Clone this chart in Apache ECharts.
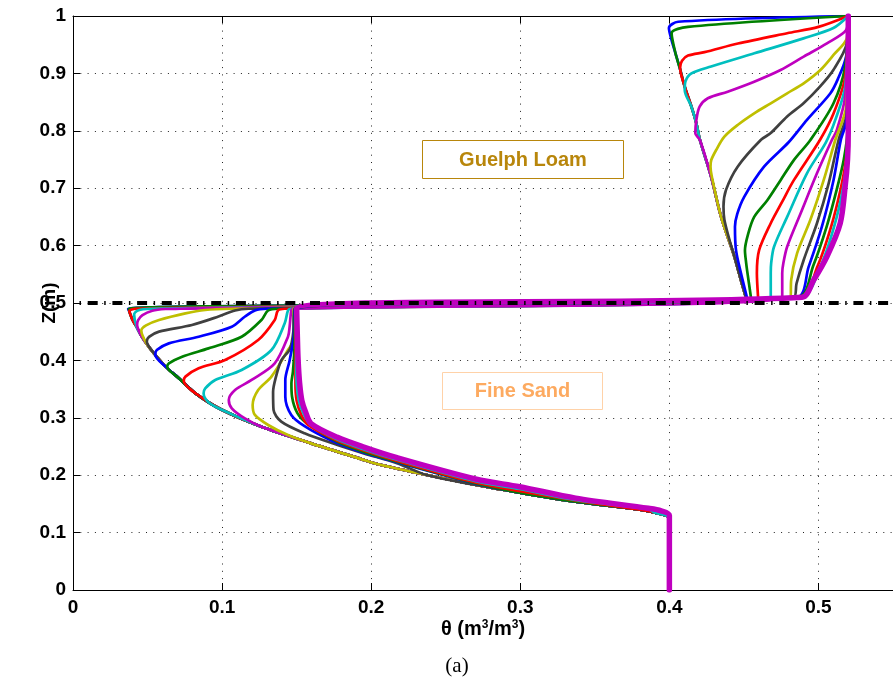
<!DOCTYPE html>
<html><head><meta charset="utf-8">
<script src="https://cdn.jsdelivr.net/npm/echarts@6/dist/echarts.min.js"></script>
<style>html,body{margin:0;padding:0;background:#fff}#c{width:893px;height:691px}</style>
</head><body><div id="c"></div>
<script>
// ---- colours (MATLAB classic line order) ----
const COLORS = ['#0000FF','#008000','#FF0000','#00BFBF','#BF00BF','#BFBF00','#404040'];

// ---- axes ----
const X_MIN = 0, X_MAX = 0.55, X_STEP = 0.1;
const Y_MIN = 0, Y_MAX = 1, Y_STEP = 0.1;
const INTERFACE_Z = 0.5;

// ---- initial profile (envelope) Guelph Loam, top -> bottom [theta, z] ----
const U_ENV = [[0.3997,0.98],[0.4015,0.958],[0.4041,0.935],[0.4070,0.909],[0.4103,0.877],[0.4148,0.842],[0.4181,0.813],[0.4205,0.784],[0.428,0.72],[0.4347,0.65],[0.4436,0.581],[0.4480,0.54],[0.4513,0.51]];
// ---- initial profile (envelope) Fine Sand, top -> bottom ----
const L_ENV = [[0.0382,0.482],[0.040,0.470],[0.0426,0.4588],[0.0455,0.4443],[0.0492,0.4297],[0.0543,0.4123],[0.0621,0.3891],[0.071,0.369],[0.0821,0.3427],[0.0998,0.314],[0.1264,0.2845],[0.1597,0.2555],[0.1929,0.2285],[0.204,0.2195],[0.2373,0.2003],[0.2706,0.1829],[0.2995,0.1696],[0.3371,0.1539],[0.3815,0.1394],[0.3904,0.1347],[0.3988,0.1289],[0.40,0.125],[0.40,0]];

// ---- upper layer profiles (top -> where they meet the envelope) ----
const UPPER_0 = [[0.52,1.0],[0.4059,0.99],[0.3997,0.979]];
const UPPER_1 = [[0.52,1.0],[0.4125,0.981],[0.4015,0.97]];
const UPPER_2 = [[0.52,1.0],[0.50,0.981],[0.479,0.97],[0.446,0.952],[0.4236,0.937],[0.4125,0.931],[0.4085,0.922],[0.4072,0.91]];
const UPPER_3 = [[0.52,1.0],[0.51,0.979],[0.49,0.961],[0.457,0.935],[0.428,0.912],[0.4148,0.90],[0.4108,0.886],[0.4103,0.871]];
const UPPER_4 = [[0.52,1.0],[0.5186,0.9756],[0.5057,0.9524],[0.4901,0.9292],[0.4746,0.9059],[0.4569,0.8856],[0.4391,0.8682],[0.4258,0.8566],[0.4203,0.842],[0.4181,0.8188],[0.4174,0.7956]];
const UPPER_5 = [[0.52,1.0],[0.519,0.9611],[0.5101,0.9321],[0.5013,0.9059],[0.4901,0.8827],[0.479,0.8653],[0.468,0.8479],[0.4569,0.8304],[0.4458,0.8101],[0.4369,0.7898],[0.4314,0.7666],[0.4281,0.7491],[0.4276,0.7375],[0.4285,0.7201]];
const UPPER_6 = [[0.52,1.0],[0.519,0.952],[0.510,0.906],[0.501,0.877],[0.490,0.848],[0.479,0.825],[0.468,0.796],[0.4613,0.784],[0.4458,0.7375],[0.438,0.697],[0.4363,0.668],[0.4369,0.645],[0.4403,0.61]];
const UPPER_7 = [[0.52,1.0],[0.5186,0.93],[0.513,0.89],[0.5079,0.865],[0.4923,0.819],[0.480,0.78],[0.4635,0.7375],[0.4502,0.685],[0.4455,0.655],[0.444,0.633],[0.4447,0.592],[0.448,0.552],[0.452,0.51]];
const UPPER_8 = [[0.52,1.0],[0.5179,0.912],[0.5101,0.848],[0.4946,0.784],[0.4835,0.749],[0.4746,0.714],[0.4657,0.679],[0.4569,0.65],[0.4529,0.621],[0.4507,0.592],[0.4515,0.57],[0.4524,0.552],[0.4547,0.51]];
const UPPER_9 = [[0.52,1.0],[0.5179,0.894],[0.5101,0.83],[0.501,0.784],[0.4835,0.714],[0.4757,0.6765],[0.468,0.639],[0.4602,0.592],[0.4587,0.552],[0.4595,0.51]];
const UPPER_10 = [[0.52,1.0],[0.5179,0.877],[0.5113,0.819],[0.505,0.78],[0.4923,0.726],[0.479,0.65],[0.4702,0.598],[0.4683,0.57],[0.468,0.552],[0.468,0.51]];
const UPPER_11 = [[0.52,1.0],[0.5179,0.86],[0.5123,0.801],[0.509,0.784],[0.499,0.726],[0.488,0.656],[0.479,0.598],[0.4765,0.57],[0.4757,0.552],[0.4757,0.51]];
const UPPER_12 = [[0.52,1.0],[0.5186,0.842],[0.5113,0.784],[0.5035,0.714],[0.4946,0.645],[0.4857,0.587],[0.4817,0.54],[0.4813,0.51]];
const UPPER_13 = [[0.52,1.0],[0.519,0.83],[0.5135,0.784],[0.5068,0.708],[0.499,0.639],[0.4901,0.575],[0.4853,0.534],[0.4835,0.51]];
const UPPER_14 = [[0.52,1.0],[0.519,0.82],[0.515,0.784],[0.5101,0.714],[0.5023,0.633],[0.4934,0.563],[0.4855,0.51]];
const UPPER_15 = [[0.52,1.0],[0.5195,0.80],[0.517,0.75],[0.5125,0.70],[0.5055,0.633],[0.4965,0.565],[0.4865,0.51]];
const UPPER_16 = [[0.52,1.0],[0.52,0.80],[0.5185,0.75],[0.515,0.70],[0.5085,0.633],[0.4995,0.565],[0.4875,0.51]];
const UPPER_17 = [[0.52,1.0],[0.52,0.80],[0.519,0.75],[0.5165,0.70],[0.5105,0.633],[0.5015,0.565],[0.4882,0.51]];
const UPPER_18 = [[0.52,1.0],[0.52,0.80],[0.5195,0.75],[0.5179,0.703],[0.5146,0.639],[0.5057,0.581],[0.4968,0.54],[0.489,0.51]];

// ---- lower layer profiles (top -> where they meet the envelope) ----
const LOWER_0 = [[0.037,0.49]];
const LOWER_1 = [[0.0375,0.49]];
const LOWER_2 = [[0.042,0.49],[0.0378,0.486]];
const LOWER_3 = [[0.052,0.49],[0.0435,0.487],[0.041,0.48]];
const LOWER_4 = [[0.072,0.49],[0.0621,0.4895],[0.0532,0.4866],[0.0466,0.479],[0.0437,0.47],[0.043,0.462]];
const LOWER_5 = [[0.107,0.49],[0.0887,0.4878],[0.0754,0.482],[0.0577,0.4704],[0.049,0.461],[0.0458,0.452]];
const LOWER_6 = [[0.118,0.49],[0.1087,0.487],[0.0976,0.4765],[0.0798,0.4617],[0.0577,0.4501],[0.051,0.441],[0.0495,0.433]];
const LOWER_7 = [[0.130,0.49],[0.122,0.487],[0.1154,0.4765],[0.1065,0.4588],[0.0843,0.4413],[0.0643,0.4297],[0.0562,0.418],[0.0552,0.41]];
const LOWER_8 = [[0.138,0.49],[0.1309,0.487],[0.1264,0.4704],[0.1131,0.4413],[0.0909,0.421],[0.0732,0.4065],[0.0643,0.3949],[0.0632,0.389]];
const LOWER_9 = [[0.142,0.49],[0.1375,0.487],[0.1353,0.4704],[0.1242,0.4355],[0.102,0.4007],[0.0843,0.3862],[0.0754,0.3717],[0.0743,0.364]];
const LOWER_10 = [[0.146,0.49],[0.1442,0.487],[0.142,0.4646],[0.1331,0.4181],[0.1131,0.3833],[0.0954,0.3659],[0.0887,0.3513],[0.0876,0.3426],[0.0905,0.328],[0.0998,0.314]];
const LOWER_11 = [[0.1475,0.49],[0.1464,0.487],[0.1453,0.4588],[0.1442,0.4413],[0.1353,0.3949],[0.1198,0.3659],[0.1087,0.3484],[0.1045,0.331],[0.1065,0.3165],[0.1153,0.299],[0.1264,0.2845]];
const LOWER_12 = [[0.148,0.49],[0.1478,0.4355],[0.1442,0.4181],[0.1331,0.3717],[0.1242,0.3484],[0.1205,0.3223],[0.122,0.305],[0.1309,0.2875],[0.1442,0.27],[0.1597,0.2555]];
const LOWER_13 = [[0.1485,0.49],[0.1478,0.45],[0.1455,0.42],[0.1397,0.40],[0.136,0.37],[0.1342,0.345],[0.1345,0.3136],[0.1397,0.2932],[0.1553,0.273],[0.1774,0.2526],[0.1951,0.238],[0.2173,0.221]];
const LOWER_14 = [[0.1488,0.49],[0.148,0.44],[0.1453,0.40],[0.1424,0.366],[0.1424,0.337],[0.1464,0.305],[0.1553,0.2855],[0.173,0.261],[0.1929,0.241],[0.2173,0.2225],[0.2706,0.185]];
const LOWER_15 = [[0.149,0.49],[0.1485,0.42],[0.1475,0.38],[0.1465,0.36],[0.1469,0.337],[0.1505,0.308],[0.157,0.29],[0.1774,0.258],[0.1951,0.2405],[0.2173,0.2235],[0.2706,0.1855]];
const LOWER_16 = [[0.1495,0.49],[0.1493,0.40],[0.1492,0.36],[0.150,0.33],[0.153,0.306],[0.158,0.287],[0.1774,0.26],[0.1951,0.243],[0.2173,0.225],[0.2706,0.187],[0.3371,0.156]];
const LOWER_17 = [[0.1497,0.49],[0.1497,0.40],[0.150,0.36],[0.1515,0.33],[0.1545,0.308],[0.159,0.289],[0.1774,0.262],[0.1951,0.245],[0.2173,0.227],[0.2706,0.189],[0.2995,0.176],[0.3371,0.157],[0.3859,0.141]];
const LOWER_18 = [[0.150,0.49],[0.1505,0.44],[0.151,0.40],[0.152,0.36],[0.1535,0.33],[0.156,0.31],[0.1597,0.29],[0.1774,0.266],[0.1951,0.249],[0.2173,0.2305],[0.2706,0.193],[0.2995,0.18],[0.3371,0.16],[0.3859,0.1423],[0.3945,0.138],[0.40,0.13],[0.40,0]];

const UPPER = [UPPER_0,UPPER_1,UPPER_2,UPPER_3,UPPER_4,UPPER_5,UPPER_6,UPPER_7,UPPER_8,UPPER_9,UPPER_10,UPPER_11,UPPER_12,UPPER_13,UPPER_14,UPPER_15,UPPER_16,UPPER_17,UPPER_18];
const LOWER = [LOWER_0,LOWER_1,LOWER_2,LOWER_3,LOWER_4,LOWER_5,LOWER_6,LOWER_7,LOWER_8,LOWER_9,LOWER_10,LOWER_11,LOWER_12,LOWER_13,LOWER_14,LOWER_15,LOWER_16,LOWER_17,LOWER_18];

const LABEL_UPPER = 'Guelph Loam';
const LABEL_LOWER = 'Fine Sand';

// append the part of the initial profile lying below where a profile joins it
function withTail(head, env) {
  const last = head[head.length - 1];
  return head.concat(env.filter(p => p[1] < last[1] && p[0] > last[0]));
}

const series = [];
for (let i = 0; i < UPPER.length; i++) {
  const lo = withTail(LOWER[i], L_ENV).slice().reverse();
  const up = withTail(UPPER[i], U_ENV).slice().reverse();
  const last = i === UPPER.length - 1;
  series.push({
    type: 'line', data: lo.concat(up), showSymbol: false, symbol: 'none',
    smooth: 0.3,
    silent: true, animation: false, clip: true,
    lineStyle: { color: COLORS[i % COLORS.length], width: last ? 5.5 : 2.7, join: 'round', cap: 'round' },
    z: 2
  });
}
series.push({
  type: 'line', data: [[X_MIN, INTERFACE_Z], [X_MAX, INTERFACE_Z]], showSymbol: false, symbol: 'none',
  silent: true, animation: false,
  lineStyle: { color: '#000', width: 4, type: [10, 6.5, 1.5, 6.7], dashOffset: 10, cap: 'butt' },
  z: 3
});

const FONT = '"Liberation Sans", Arial, Helvetica, sans-serif';
const dotted = { color: '#222', width: 1, type: [1, 6.3] };

const chart = echarts.init(document.getElementById('c'), null, { renderer: 'canvas' });
chart.setOption({
  backgroundColor: '#fff',
  animation: false,
  grid: { left: 73, top: 16, width: 827, height: 574 },
  xAxis: [{
    type: 'value', min: X_MIN, max: X_MAX, interval: X_STEP, position: 'bottom',
    axisLine: { show: true, onZero: false, lineStyle: { color: '#000', width: 1 } },
    axisTick: { show: true, inside: true, length: 7, lineStyle: { color: '#000' } },
    axisLabel: { show: true, fontFamily: FONT, fontWeight: 'bold', fontSize: 19, color: '#000', margin: 8, showMaxLabel: false },
    splitLine: { show: true, lineStyle: dotted },
    name: 'θ (m{s|3}/m{s|3})', nameLocation: 'middle', nameGap: 29, nameMoveOverlap: false,
    nameTextStyle: { fontFamily: FONT, fontWeight: 'bold', fontSize: 20, color: '#000',
      rich: { s: { fontFamily: FONT, fontWeight: 'bold', fontSize: 12, color: '#000', verticalAlign: 'top', padding: [0,0,8,0] } } }
  }, {
    type: 'value', min: X_MIN, max: X_MAX, interval: X_STEP, position: 'top',
    axisLine: { show: true, onZero: false, lineStyle: { color: '#000', width: 1 } },
    axisTick: { show: true, inside: true, length: 7, lineStyle: { color: '#000' } },
    axisLabel: { show: false }, splitLine: { show: false }
  }],
  yAxis: [{
    type: 'value', min: Y_MIN, max: Y_MAX, interval: Y_STEP, position: 'left',
    axisLine: { show: true, onZero: false, lineStyle: { color: '#000', width: 1 } },
    axisTick: { show: true, inside: true, length: 7, lineStyle: { color: '#000' } },
    axisLabel: { show: true, fontFamily: FONT, fontWeight: 'bold', fontSize: 19, color: '#000', margin: 7 },
    splitLine: { show: true, lineStyle: dotted },
    name: 'Z(m)', nameLocation: 'middle', nameGap: 14, nameRotate: 90, nameMoveOverlap: false,
    nameTextStyle: { fontFamily: FONT, fontWeight: 'bold', fontSize: 19, color: '#000' }
  }],
  series: series,
  graphic: [
    { type: 'rect', z: 50, shape: { x: 422.5, y: 140.5, width: 201, height: 38 }, style: { fill: '#fff', stroke: '#B8860B', lineWidth: 1 } },
    { type: 'text', z: 51, x: 523, y: 160, style: { text: LABEL_UPPER, font: 'bold 20px ' + FONT, fill: '#B8860B', textAlign: 'center', textVerticalAlign: 'middle', align: 'center', verticalAlign: 'middle' } },
    { type: 'rect', z: 50, shape: { x: 442.5, y: 372.5, width: 160, height: 37 }, style: { fill: '#fff', stroke: '#FFD2A8', lineWidth: 1 } },
    { type: 'text', z: 51, x: 522.5, y: 391.5, style: { text: LABEL_LOWER, font: 'bold 20px ' + FONT, fill: '#FDAA60', textAlign: 'center', textVerticalAlign: 'middle', align: 'center', verticalAlign: 'middle' } },
    { type: 'rect', z: 100, shape: { x: 400, y: 641, width: 180, height: 10 }, style: { fill: '#fff' } },
    { type: 'text', z: 101, x: 457, y: 666, style: { text: '(a)', font: '21px "Liberation Serif", "DejaVu Serif", serif', fill: '#000', textAlign: 'center', textVerticalAlign: 'middle', align: 'center', verticalAlign: 'middle' } }
  ]
});
</script>
</body></html>
